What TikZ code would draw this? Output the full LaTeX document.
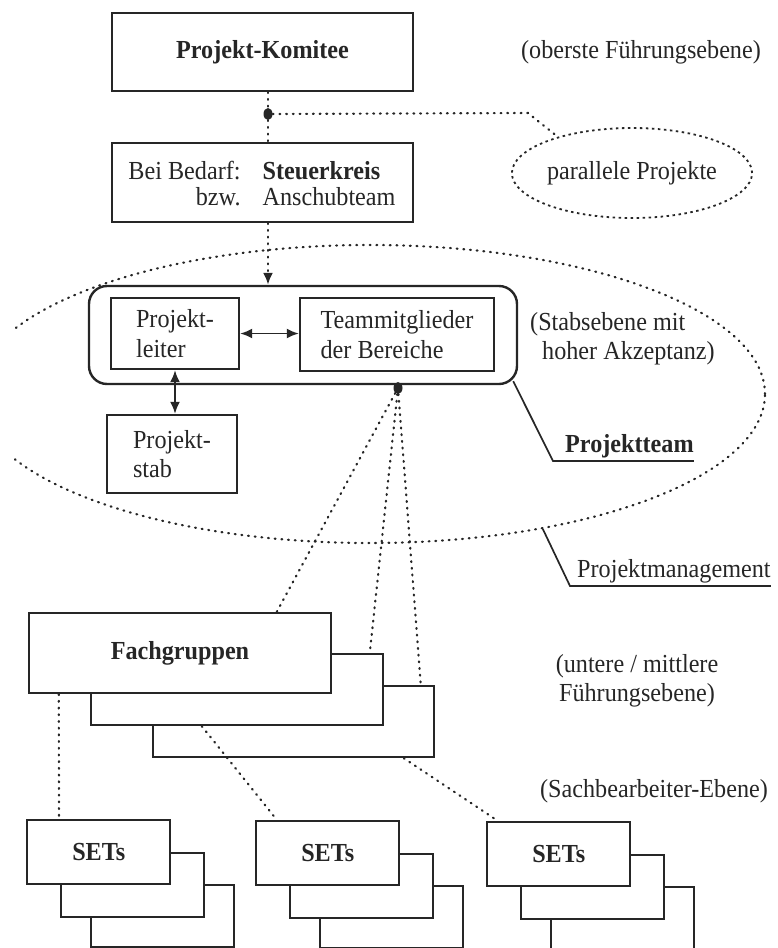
\documentclass[tikz,border=0pt]{standalone}
\usepackage{fontspec}
\setmainfont{Liberation Serif}[FakeStretch=0.93]
\usetikzlibrary{shapes.geometric,arrows.meta,calc}
\definecolor{ink}{HTML}{262626}

% three stacked cards: name, x and y of the front card's top left corner, label
\newcommand\cardstack[4]{%
  \node[box, anchor=north west, minimum width=143pt, minimum height=62pt] (#1c) at (#2+64,#3+65) {};
  \node[box, anchor=north west, minimum width=143pt, minimum height=64pt] (#1b) at (#2+34,#3+33) {};
  \node[box, bold, anchor=north west, minimum width=143pt, minimum height=64pt] (#1a) at (#2,#3) {#4};
}

\begin{document}
\begin{tikzpicture}[x=1pt, y=-1pt,
  every node/.style={text=ink},
  font=\fontsize{26pt}{29pt}\selectfont,
  bold/.style={font=\fontsize{26pt}{29pt}\selectfont\bfseries},
  tall/.style={font=\fontsize{26pt}{30pt}\selectfont},
  box/.style={draw=ink, line width=2.4pt, fill=white, inner sep=0pt, align=left},
  dots/.style={draw=ink, line width=2.2pt, line cap=round, dash pattern=on 0.9pt off 5.8pt},
  ringdash/.style={draw=ink, line width=1.8pt, dash pattern=on 2.5pt off 3.5pt},
  pin/.style={ellipse, fill=ink, inner sep=0pt, minimum width=9pt, minimum height=12pt},
  twohead/.style={{Latex[length=12pt,width=10pt]}-{Latex[length=12pt,width=10pt]}, line width=1.9pt, draw=ink},
  lbl/.style={draw=ink, line width=1.7pt}]
\useasboundingbox (0,0) rectangle (778,948);

% project management ring (cut at the left margin)
\begin{scope}
  \clip (14,0) rectangle (778,948);
  \node[ellipse, dots, minimum width=790pt, minimum height=298pt, inner sep=0pt] (pm) at (370,394) {};
\end{scope}

% top level
\node[box, bold, minimum width=301pt, minimum height=78pt] (pk) at (262.5,52) {Projekt-Komitee};
\node (pkn) at (641,52) {(oberste Führungsebene)};

\node[box, minimum width=301pt, minimum height=79pt] (sk) at (262.5,182.5) {};
\node[inner sep=0pt] (skt) at (262,187) {\fontsize{26pt}{25.5pt}\selectfont
  \begin{tabular}{@{}r@{\hspace{22pt}}l@{}}
    Bei Bedarf: & \textbf{Steuerkreis}\\
    bzw. & Anschubteam
  \end{tabular}};

\node[pin] (b1) at (268,114) {};
\draw[dots] (pk.south -| b1) -- (b1) -- (b1 |- sk.north);

\node[ellipse, ringdash, minimum width=231pt, minimum height=90pt, inner sep=0pt] (pp) at (632,173) {parallele Projekte};
\coordinate (ppbend) at (528,113);
\draw[dots] (b1) -- (ppbend) -- (pp.154);

% project team
\node[box, rounded corners=18pt, minimum width=428pt, minimum height=98pt] (team) at (303,335) {};
\draw[dots, -{Latex[length=12pt,width=10pt]}] (sk.south -| b1) -- (b1 |- team.north);

\node[box, tall, minimum width=128pt, minimum height=71pt] (pl) at (175,333.5) {Projekt-\\leiter};
\node[box, tall, minimum width=194pt, minimum height=73pt] (tm) at (397,334.5) {Teammitglieder\\der Bereiche};
\node[box, minimum width=130pt, minimum height=78pt] (ps) at (172,454) {Projekt-\\stab};

\draw[twohead] (pl.east) -- (pl.east -| tm.west);
\draw[twohead] (pl.south) -- (pl.south |- ps.north);

\node[anchor=west, align=left, inner sep=0pt] (stabt) at (530,339) {(Stabsebene mit\\\hspace*{12pt}hoher Akzeptanz)};

\node[pin] (b2) at (398,388) {};

% callout labels
\node[bold, anchor=base west, inner sep=0pt] (ptl) at (565,452) {Projektteam};
\coordinate (ptk) at (553,461);
\draw[lbl] ($(team.south east)+(-5,-4)$) -- (ptk) -- (ptl.east |- ptk);

\node[anchor=base west, inner sep=0pt] (pml) at (577,577) {Projektmanagement};
\coordinate (pmk) at (570,586);
\draw[lbl] (pm.-38) -- (pmk) -- (pml.east |- pmk);

% specialist groups
\node[box, minimum width=281pt, minimum height=71pt] (fg3) at (293.5,721.5) {};
\node[box, minimum width=292pt, minimum height=71pt] (fg2) at (237,689.5) {};
\node[box, bold, minimum width=302pt, minimum height=80pt] (fg1) at (180,653) {Fachgruppen};

\draw[dots] (b2) -- ($(fg1.north west)+(249,0)$);
\draw[dots] (b2) -- ($(fg2.north west)+(280,0)$);
\draw[dots] (b2) -- ($(fg3.north west)+(269,0)$);

\node[align=center] (fgn) at (637,681) {(untere / mittlere\\Führungsebene)};
\node (setn) at (654,791) {(Sachbearbeiter-Ebene)};

% working teams
\cardstack{s1}{26}{819}{SETs}
\cardstack{s2}{255}{820}{SETs}
\cardstack{s3}{486}{821}{SETs}

\draw[dots] ($(fg1.south west)+(31,0)$) -- ($(s1a.north west)+(33,0)$);
\draw[dots] ($(fg2.south west)+(112,0)$) -- ($(s2a.north west)+(22,0)$);
\draw[dots] ($(fg3.south west)+(252,0)$) -- ($(s3a.north west)+(12,0)$);
\end{tikzpicture}
\end{document}
